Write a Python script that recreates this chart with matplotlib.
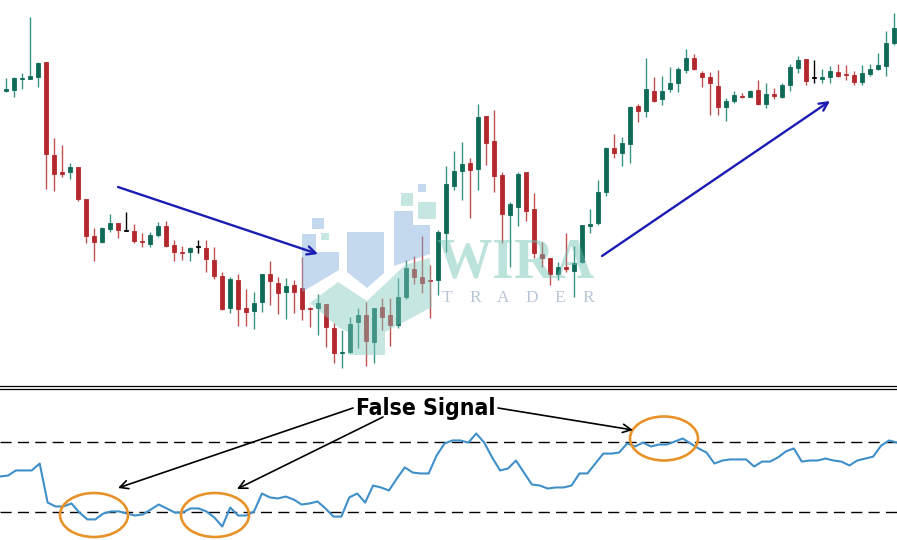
import matplotlib.pyplot as plt
from matplotlib.patches import Ellipse, Polygon, Rectangle

# candle data (price units, one candle per bar)
opens = [309, 310, 321, 321, 323, 338, 245, 228, 228, 233,
         201, 164, 158, 171, 177, 169, 169, 159, 156, 165,
         174, 155, 148, 148, 153, 152, 140, 124, 92, 120,
         92, 89, 98, 126, 117, 108, 115, 112, 92, 92,
         96, 72, 47, 48, 78, 85, 58, 93, 85, 75,
         103, 131, 123, 120, 120, 167, 214, 229, 237, 231,
         284, 259, 225, 185, 193, 228, 191, 146, 142, 126,
         133, 129, 138, 174, 177, 208, 252, 247, 256, 294,
         289, 309, 301, 311, 317, 330, 342, 327, 323, 314,
         293, 299, 304, 303, 310, 296, 306, 303, 315, 332,
         341, 322, 321, 323, 328, 326, 325, 318, 326, 331,
         334, 357]
highs = [322, 323, 327, 383, 338, 338, 262, 255, 237, 233,
         201, 172, 173, 186, 177, 188, 176, 167, 168, 178,
         179, 160, 154, 153, 160, 160, 153, 128, 123, 126,
         111, 108, 126, 139, 123, 122, 120, 143, 93, 106,
         96, 77, 70, 83, 92, 98, 92, 102, 102, 122,
         140, 144, 164, 135, 170, 234, 249, 258, 242, 296,
         284, 290, 228, 198, 228, 228, 207, 158, 142, 138,
         167, 154, 175, 191, 220, 253, 266, 263, 294, 296,
         342, 323, 324, 333, 333, 351, 346, 329, 328, 330,
         302, 309, 307, 310, 320, 317, 312, 317, 336, 344,
         341, 340, 331, 334, 336, 335, 329, 335, 336, 347,
         369, 387]
lows = [308, 303, 311, 321, 313, 211, 209, 223, 221, 199,
        157, 139, 157, 168, 162, 169, 157, 153, 153, 163,
        153, 139, 140, 139, 147, 128, 121, 90, 87, 74,
        74, 71, 88, 95, 86, 81, 87, 80, 73, 65,
        53, 37, 32, 47, 52, 34, 37, 70, 54, 72,
        101, 116, 107, 82, 105, 148, 210, 200, 182, 210,
        235, 208, 157, 133, 174, 179, 142, 133, 115, 120,
        128, 103, 137, 167, 175, 204, 242, 234, 237, 278,
        283, 298, 295, 308, 308, 327, 330, 313, 285, 285,
        279, 297, 302, 303, 295, 292, 301, 302, 309, 327,
        315, 317, 317, 317, 323, 320, 315, 315, 324, 330,
        324, 355]
closes = [311, 322, 322, 324, 337, 246, 226, 226, 233, 201,
          164, 158, 172, 177, 170, 169, 159, 158, 165, 174,
          154, 148, 147, 152, 153, 141, 124, 91, 121, 91,
          88, 97, 126, 119, 107, 114, 108, 91, 91, 97,
          73, 47, 48, 76, 85, 59, 92, 83, 75, 103,
          132, 123, 117, 119, 168, 216, 229, 236, 230, 283,
          257, 224, 186, 196, 226, 189, 147, 142, 126, 133,
          131, 137, 175, 176, 208, 252, 247, 257, 293, 289,
          311, 299, 309, 317, 331, 342, 331, 323, 317, 293,
          299, 305, 303, 309, 296, 306, 304, 315, 333, 340,
          319, 322, 323, 329, 324, 325, 318, 327, 331, 335,
          357, 372]

# oscillator under the chart
osc = [50.3, 50.8, 53.7, 53.7, 53.7, 57.6, 35.6, 33.4, 33.4, 35.1,
       30.0, 26.1, 26.1, 29.4, 30.6, 30.6, 29.4, 28.3, 28.9, 31.7,
       34.5, 32.3, 30.0, 30.0, 32.3, 32.3, 30.6, 27.2, 22.1, 32.8,
       28.3, 28.3, 30.6, 40.7, 38.5, 37.9, 39.0, 37.3, 34.5, 35.1,
       36.2, 32.3, 27.7, 27.7, 38.5, 40.7, 35.6, 45.2, 44.1, 42.4,
       49.2, 55.4, 52.5, 52.0, 52.0, 62.1, 68.9,
       70.6, 70.6, 69.4, 74.5, 69.4, 61.0, 53.7, 54.8, 59.3, 52.5,
       45.8, 45.2, 43.5, 44.1, 44.1, 45.2, 52.0, 52.0, 57.6, 63.2,
       63.2, 63.8, 68.9, 67.2, 69.4, 67.2, 68.3, 68.3, 70.0, 71.7,
       68.9, 66.1, 63.8, 57.6, 59.3, 59.9, 59.9, 59.9, 55.9, 58.7,
       58.7, 61.0, 64.4, 66.1, 58.7, 59.3, 59.3, 60.4, 59.3, 58.7,
       56.5, 59.3, 60.4, 61.5, 67.7, 70.6, 69.4]
upper_level = 70
lower_level = 30

UP_BODY, UP_WICK = "#0f6b58", "#3a9483"
DN_BODY, DN_WICK = "#b3282d", "#bf5050"

# mathtext for the watermark word gives a tight box (no descent)
plt.rcParams["mathtext.fontset"] = "custom"
plt.rcParams["mathtext.bf"] = "Liberation Serif:bold"


def draw_candles(ax):
    for i, (o, h, l, c) in enumerate(zip(opens, highs, lows, closes)):
        if c > o:
            body, wick = UP_BODY, UP_WICK
        elif c < o:
            body, wick = DN_BODY, DN_WICK
        else:
            body, wick = "black", "black"
        ax.vlines(i, l, h, color=wick, lw=1.0, zorder=2)
        bottom = min(o, c)
        height = max(abs(c - o), 1.2)
        ax.bar(i, height, bottom=bottom, width=0.62, color=body,
               edgecolor=body, lw=0.6, zorder=3)


fig = plt.figure(figsize=(8.97, 5.40), dpi=100)

# price panel
ax_top = fig.add_axes([0, 1 - 383 / 540, 1, 383 / 540])
draw_candles(ax_top)
ax_top.set_xlim(-0.75, 111.375)
ax_top.set_ylim(17, 400)
ax_top.axis("off")

# oscillator panel
ax_bot = fig.add_axes([0, 0, 1, 151 / 540])
ax_bot.plot(range(len(osc)), osc, color="#3f8fc8", lw=1.5, zorder=3)
for lvl in (upper_level, lower_level):
    ax_bot.axhline(lvl, color="black", lw=1.0, dashes=(8, 4.5), zorder=2)
ax_bot.set_xlim(0, len(osc) - 1)
ax_bot.set_ylim(14.5, 99.6)
ax_bot.axis("off")

# overlay in pixel coords for separator, watermark and notes
ax_o = fig.add_axes([0, 0, 1, 1], zorder=5)
ax_o.set_xlim(0, 897)
ax_o.set_ylim(540, 0)
ax_o.axis("off")
ax_o.patch.set_alpha(0)

ax_o.plot([0, 897], [386.3, 386.3], color="black", lw=0.9)
ax_o.plot([0, 897], [389.0, 389.0], color="black", lw=0.9)

# watermark logo (semi transparent, candles show through)
wm_blue, wm_teal = "#7ea9da", "#80c8bd"
a = 0.45
for pts in ([(302, 234), (316, 234), (316, 252), (339, 252), (339, 270), (302, 292)],
            [(347, 232), (384, 232), (384, 273), (367, 288), (347, 272)],
            [(394, 211), (413, 211), (413, 225), (430, 225), (430, 254), (394, 266)]):
    ax_o.add_patch(Polygon(pts, closed=True, fc=wm_blue, ec="none", alpha=a))
ax_o.add_patch(Polygon([(310, 303), (338, 282), (367, 301), (405, 265), (430, 258),
                        (432, 307), (385, 332), (385, 355), (348, 355), (348, 332),
                        (338, 327)], closed=True, fc=wm_teal, ec="none", alpha=a))
for (x0, y0, w, h, col) in ((312, 218, 11.5, 11, wm_blue), (321, 233, 7.5, 7, wm_teal),
                            (401, 193, 11.5, 12.5, wm_teal), (418, 184, 8, 8, wm_blue),
                            (418, 202, 17.5, 16.5, wm_teal)):
    ax_o.add_patch(Rectangle((x0, y0), w, h, fc=col, ec="none", alpha=a))
ax_o.text(515, 289, r"$\mathbf{WIRA}$", ha="center", va="bottom", fontsize=40,
          color="#6cbfb3", alpha=0.45)
for k, ch in enumerate("TRADER"):
    ax_o.text(447 + 28.2 * k, 290.5, ch, ha="center", va="top", fontsize=12.5,
              family="Liberation Serif", color="#b9c6d8")

# trend arrows
blue = "#1c1cb4"
ax_o.annotate("", xy=(318, 254), xytext=(118, 187),
              arrowprops=dict(arrowstyle="->", color=blue, lw=1.7,
                              mutation_scale=15, shrinkA=0, shrinkB=0))
ax_o.annotate("", xy=(830, 101), xytext=(602, 256),
              arrowprops=dict(arrowstyle="->", color=blue, lw=1.7,
                              mutation_scale=15, shrinkA=0, shrinkB=0))

# false signal circles
orange = "#e8922a"
for cx, cy in ((94, 515), (215, 515), (664, 438.5)):
    ax_o.add_patch(Ellipse((cx, cy), 68, 44, fill=False, ec=orange, lw=1.9))

ax_o.text(426, 415, "False Signal", ha="center", va="baseline", fontsize=16.5,
          family="DejaVu Sans", weight="bold", stretch="condensed", color="black")
for tail, head in (((353, 408), (118, 488)), ((383, 417), (237, 489)),
                   ((498, 408), (633, 430))):
    ax_o.annotate("", xy=head, xytext=tail,
                  arrowprops=dict(arrowstyle="->", color="black", lw=1.2,
                                  mutation_scale=15, shrinkA=0, shrinkB=0))

fig.savefig("out.png", dpi=100)
